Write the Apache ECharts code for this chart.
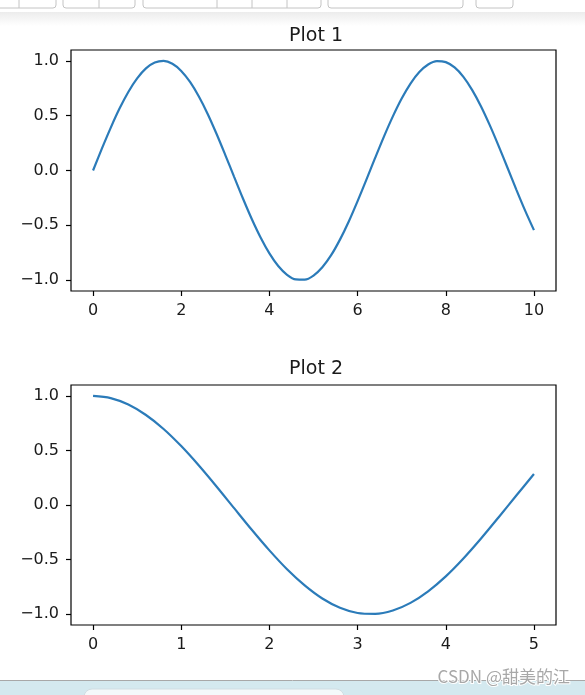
<!DOCTYPE html>
<html>
<head>
<meta charset="utf-8">
<script src="https://cdn.jsdelivr.net/npm/echarts@6/dist/echarts.min.js"></script>
<style>
html,body{margin:0;padding:0;background:#fff;}
#chart{width:585px;height:695px;}
</style>
</head>
<body>
<div id="chart"></div>
<script>
// ---- Data ----
const titles = ['Plot 1', 'Plot 2'];

const x1 = [0,0.2,0.4,0.6,0.8,1.0,1.2,1.4,1.6,1.8,2.0,2.2,2.4,2.6,2.8,3.0,3.2,3.4,3.6,3.8,4.0,4.2,4.4,4.6,4.8,5.0,5.2,5.4,5.6,5.8,6.0,6.2,6.4,6.6,6.8,7.0,7.2,7.4,7.6,7.8,8.0,8.2,8.4,8.6,8.8,9.0,9.2,9.4,9.6,9.8,10.0];
const y1 = [0.000,0.199,0.389,0.565,0.717,0.841,0.932,0.985,1.000,0.974,0.909,0.808,0.675,0.516,0.335,0.141,-0.058,-0.256,-0.443,-0.612,-0.757,-0.872,-0.952,-0.994,-0.996,-0.959,-0.883,-0.773,-0.631,-0.465,-0.279,-0.083,0.117,0.312,0.494,0.657,0.794,0.899,0.968,0.999,0.989,0.941,0.855,0.734,0.585,0.412,0.223,0.025,-0.174,-0.366,-0.544];

const x2 = [0,0.2,0.4,0.6,0.8,1.0,1.2,1.4,1.6,1.8,2.0,2.2,2.4,2.6,2.8,3.0,3.2,3.4,3.6,3.8,4.0,4.2,4.4,4.6,4.8,5.0];
const y2 = [1.000,0.980,0.921,0.825,0.697,0.540,0.362,0.170,-0.029,-0.227,-0.416,-0.589,-0.737,-0.857,-0.942,-0.990,-0.998,-0.967,-0.897,-0.791,-0.654,-0.490,-0.307,-0.112,0.087,0.284];

const xTicks1 = [0,2,4,6,8,10];
const xTicks2 = [0,1,2,3,4,5];
const yTicks = [-1.0,-0.5,0.0,0.5,1.0];

// ---- Chart ----
const FONT = 'DejaVu Sans';
const lineColor = '#2b7bb9';

function fmtY(v){ const s = Number(v).toFixed(1); return s.replace('-', '\u2212'); }

function xAxisCfg(idx, min, max, ticks){
  return {
    type:'value', gridIndex: idx, min: min, max: max,
    axisLine:{show:false, onZero:false},
    splitLine:{show:false},
    axisTick:{show:true, inside:false, length:5, lineStyle:{color:'#000', width:1.2}, customValues: ticks},
    axisLabel:{show:true, margin:12, color:'#1a1a1a', fontFamily:FONT, fontSize:16, customValues: ticks, formatter: v => String(v)}
  };
}
function yAxisCfg(idx){
  return {
    type:'value', gridIndex: idx, min:-1.1, max:1.1,
    axisLine:{show:false, onZero:false},
    splitLine:{show:false},
    axisTick:{show:true, inside:false, length:5, lineStyle:{color:'#000', width:1.2}, customValues: yTicks},
    axisLabel:{show:true, margin:12, color:'#1a1a1a', fontFamily:FONT, fontSize:16, customValues: yTicks, formatter: fmtY}
  };
}

const chart = echarts.init(document.getElementById('chart'), null, {renderer:'canvas'});

// toolbar button outlines at the top (screenshot chrome)
const btnGroups = [[-10,56,[19]],[63,135,[99]],[143,321,[217,252,287]],[328,463,[]],[476,513,[]]];
const graphics = [];
graphics.push({type:'rect', shape:{x:0,y:12,width:585,height:14}, style:{fill:new echarts.graphic.LinearGradient(0,0,0,1,[{offset:0,color:'#ececec'},{offset:1,color:'#ffffff'}])}, z:-1});
btnGroups.forEach(g => {
  graphics.push({type:'rect', shape:{x:g[0], y:-6, width:g[1]-g[0], height:14, r:3}, style:{fill:'#fff', stroke:'#c4c4c4', lineWidth:1}});
  g[2].forEach(d => graphics.push({type:'line', shape:{x1:d,y1:0,x2:d,y2:8}, style:{stroke:'#c4c4c4', lineWidth:1}}));
});
// bottom chrome
graphics.push({type:'rect', shape:{x:0,y:681,width:585,height:14}, style:{fill:'#d4e9ef'}});
graphics.push({type:'line', shape:{x1:0,y1:680.5,x2:585,y2:680.5}, style:{stroke:'#a8a8a8', lineWidth:1}});
graphics.push({type:'rect', shape:{x:84,y:689,width:260,height:20,r:8}, style:{fill:'#f4f9fa', stroke:'#d0dde2'}});
graphics.push({type:'text', right:14, top:667, style:{text:'CSDN @甜美的江', fill:'#a8a8a8', stroke:'#ffffff', lineWidth:2, font:'17px "Noto Sans CJK SC", "DejaVu Sans"'}, z:10});

const option = {
  animation:false,
  backgroundColor:'#fff',
  title:[
    {text:titles[0], top:22, left:311, textAlign:'center', textStyle:{fontFamily:FONT, fontSize:19, fontWeight:'normal', color:'#1a1a1a'}},
    {text:titles[1], top:355, left:311, textAlign:'center', textStyle:{fontFamily:FONT, fontSize:19, fontWeight:'normal', color:'#1a1a1a'}}
  ],
  grid:[
    {left:71, top:50, width:485, height:241, show:true, borderColor:'#000', borderWidth:1.2, backgroundColor:'#fff', containLabel:false},
    {left:71, top:385, width:485, height:240, show:true, borderColor:'#000', borderWidth:1.2, backgroundColor:'#fff', containLabel:false}
  ],
  xAxis:[ xAxisCfg(0,-0.5,10.5,xTicks1), xAxisCfg(1,-0.25,5.25,xTicks2) ],
  yAxis:[ yAxisCfg(0), yAxisCfg(1) ],
  series:[
    {type:'line', xAxisIndex:0, yAxisIndex:0, data:x1.map((x,i)=>[x,y1[i]]), smooth:0.3, showSymbol:false, lineStyle:{color:lineColor, width:2.2}},
    {type:'line', xAxisIndex:1, yAxisIndex:1, data:x2.map((x,i)=>[x,y2[i]]), smooth:0.3, showSymbol:false, lineStyle:{color:lineColor, width:2.2}}
  ],
  graphic: graphics
};
chart.setOption(option);
</script>
</body>
</html>
